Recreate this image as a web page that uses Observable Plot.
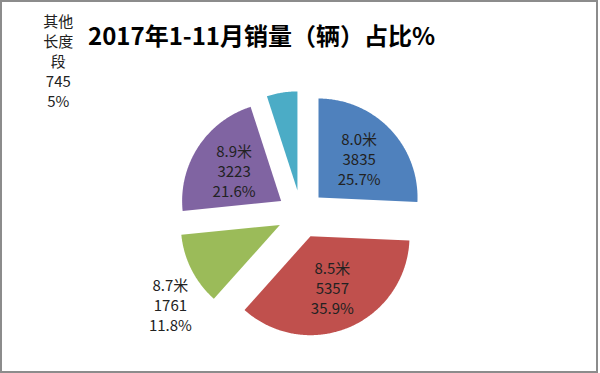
<!DOCTYPE html>
<html>
<head>
<meta charset="utf-8">
<script src="https://cdn.jsdelivr.net/npm/d3@7"></script>
<script src="https://cdn.jsdelivr.net/npm/@observablehq/plot@0.6"></script>
<style>
  html, body { margin: 0; padding: 0; background: #fff; }
  #wrap { position: relative; width: 600px; height: 373px; overflow: hidden; }
  #frame { position: absolute; left: 0; top: 0; width: 598px; height: 373px; box-sizing: border-box; border: 2px solid #8c8c8c; pointer-events: none; }
  #title { position: absolute; left: 88px; top: 22px; font: bold 24px/26px "Noto Sans CJK SC", "Liberation Sans", sans-serif; color: #000; white-space: nowrap; }
  #chart { position: absolute; left: 0; top: 0; }
</style>
</head>
<body>
<div id="wrap">
  <div id="chart"></div>
  <div id="title">2017年1-11月销量（辆）占比%</div>
  <div id="frame"></div>
</div>
<script>
// ---- data ----
const categories = ["8.0米", "8.5米", "8.7米", "8.9米", "其他长度段"];
const sales = [3835, 5357, 1761, 3223, 745];
const shares = ["25.7%", "35.9%", "11.8%", "21.6%", "5%"];
const colors = ["#4f81bd", "#c0504d", "#9bbb59", "#8064a2", "#4bacc6"];

// ---- layout (unit = pie radius) ----
const W = 600, H = 373;
const R = 99, cx = 300.7, cy = 213.6;     // pie centre & radius in pixels
const explode = 0.242;                    // slice offset, in radii
const insideLabelR = 0.81;
// labels placed outside the slice: polar position (radius, degrees clockwise from 12 o'clock)
const outsideLabels = {2: {r: 1.605, deg: 235.4}, 4: {r: 2.902, deg: 302.3}};

const arcs = d3.pie().sort(null).value(d => d)(sales);

const slices = [];
arcs.forEach((a, i) => {
  const mid = (a.startAngle + a.endAngle) / 2;
  const ox = explode * Math.sin(mid), oy = explode * Math.cos(mid);
  const n = Math.max(8, Math.ceil((a.endAngle - a.startAngle) / 0.01));
  slices.push({cat: categories[i], x: ox, y: oy});
  for (let k = 0; k <= n; ++k) {
    const t = a.startAngle + (a.endAngle - a.startAngle) * k / n;
    slices.push({cat: categories[i], x: ox + Math.sin(t), y: oy + Math.cos(t)});
  }
});

function wrapName(s) {
  if (s.length <= 4) return s;
  const out = [];
  for (let i = 0; i < s.length; i += 2) out.push(s.slice(i, i + 2));
  return out.join("\n");
}

const labels = arcs.map((a, i) => {
  const mid = (a.startAngle + a.endAngle) / 2;
  let r = insideLabelR, ang = mid;
  if (outsideLabels[i]) { r = outsideLabels[i].r; ang = outsideLabels[i].deg * Math.PI / 180; }
  return {x: r * Math.sin(ang), y: r * Math.cos(ang), text: `${wrapName(categories[i])}\n${sales[i]}\n${shares[i]}`};
});

const plot = Plot.plot({
  width: W, height: H,
  marginTop: 0, marginRight: 0, marginBottom: 0, marginLeft: 0,
  x: {domain: [-cx / R, (W - cx) / R], axis: null},
  y: {domain: [-(H - cy) / R, cy / R], axis: null},
  color: {domain: categories, range: colors},
  style: {background: "transparent", overflow: "visible"},
  marks: [
    ...categories.map((c, i) => Plot.line(slices.filter(d => d.cat === c), {
      x: "x", y: "y", fill: colors[i], stroke: "none", curve: "linear-closed"
    })),
    Plot.text(labels, {
      x: "x", y: "y", text: "text",
      fontSize: 15, lineHeight: 1.33, fill: "#222",
      fontFamily: "'Noto Sans CJK SC', 'Liberation Sans', sans-serif",
      textAnchor: "middle", lineAnchor: "middle"
    })
  ]
});
document.getElementById("chart").appendChild(plot);
</script>
</body>
</html>
